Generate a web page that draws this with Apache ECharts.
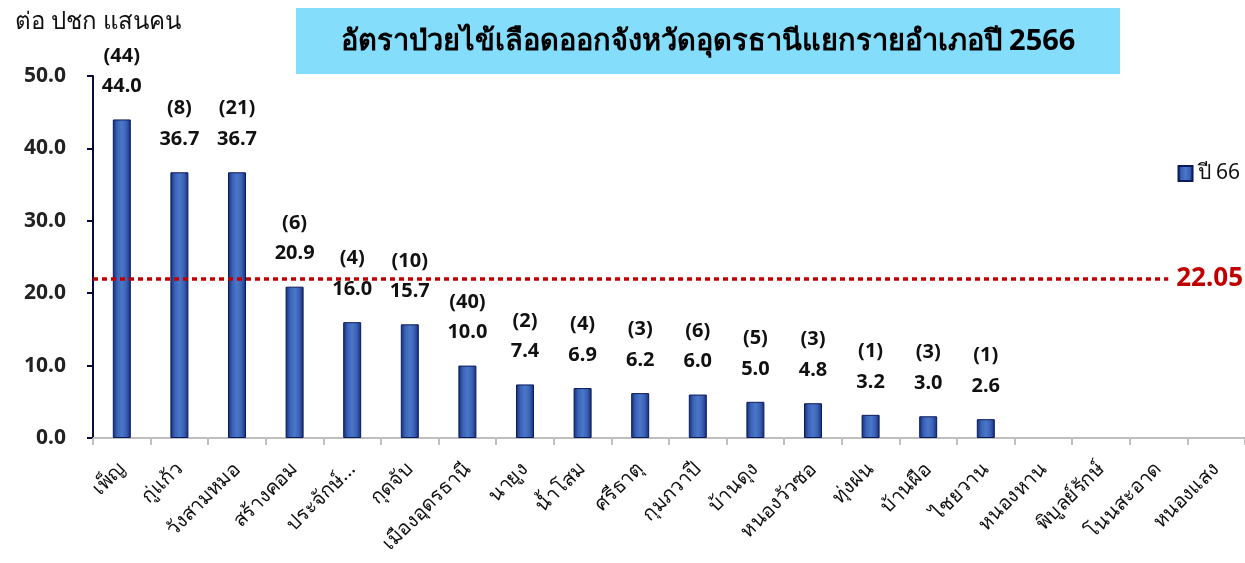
<!DOCTYPE html>
<html>
<head>
<meta charset="utf-8">
<script src="https://cdn.jsdelivr.net/npm/echarts@6/dist/echarts.min.js"></script>
<style>
  html, body { margin: 0; padding: 0; background: #fff; }
  #chart { width: 1245px; height: 563px; }
</style>
</head>
<body>
<div id="chart"></div>
<script>
// อำเภอ
const districts = ['เพ็ญ', 'กู่แก้ว', 'วังสามหมอ', 'สร้างคอม', 'ประจักษ์...', 'กุดจับ', 'เมืองอุดรธานี', 'นายูง', 'น้ำโสม', 'ศรีธาตุ',
  'กุมภวาปี', 'บ้านดุง', 'หนองวัวซอ', 'ทุ่งฝน', 'บ้านผือ', 'ไชยวาน', 'หนองหาน', 'พิบูลย์รักษ์', 'โนนสะอาด', 'หนองแสง']
// อัตราป่วยต่อแสนประชากร
const rates = [44.0, 36.7, 36.7, 20.9, 16.0, 15.7, 10.0, 7.4, 6.9, 6.2, 6.0, 5.0, 4.8, 3.2, 3.0, 2.6, 0, 0, 0, 0]
// จำนวนผู้ป่วย
const cases = [44, 8, 21, 6, 4, 10, 40, 2, 4, 3, 6, 5, 3, 1, 3, 1, 0, 0, 0, 0]
const avgRate = 22.05
const yTicks = [0, 10, 20, 30, 40, 50]

const font = "'Noto Sans', 'DejaVu Sans', sans-serif"

let chart = echarts.init(document.getElementById('chart'))
chart.setOption({
  animation: false,
  textStyle: { fontFamily: font },
  title: {
    text: 'ต่อ ปชก แสนคน',
    left: 10,
    top: 5,
    textStyle: { fontSize: 24, fontWeight: 'normal', color: '#111', fontFamily: font }
  },
  graphic: [{
    type: 'group',
    left: 296,
    top: 8,
    children: [
      { type: 'rect', shape: { x: 0, y: 0, width: 824, height: 66 }, style: { fill: '#84DDFB' } },
      {
        type: 'text', x: 412, y: 34,
        style: {
          text: 'อัตราป่วยไข้เลือดออกจังหวัดอุดรธานีแยกรายอำเภอปี 2566',
          fontSize: 29, fontWeight: 'bold', fill: '#000', fontFamily: font,
          align: 'center', verticalAlign: 'middle'
        }
      }
    ]
  }],
  legend: {
    right: 0,
    top: 158,
    icon: 'rect',
    itemWidth: 14,
    itemHeight: 15,
    itemGap: 6,
    textStyle: { fontSize: 21, color: '#111', fontFamily: font },
    data: ['ปี 66']
  },
  grid: { left: 93, right: 0, top: 76, bottom: 125 },
  xAxis: {
    type: 'category',
    data: districts,
    axisLine: { lineStyle: { color: '#BFBFBF', width: 2 } },
    axisTick: { show: true, length: 7, lineStyle: { color: '#BFBFBF', width: 2 } },
    axisLabel: { rotate: 45, fontSize: 20, color: '#111', margin: 28, interval: 0, fontFamily: font }
  },
  yAxis: {
    type: 'value',
    min: yTicks[0],
    max: yTicks[yTicks.length - 1],
    interval: 10,
    splitLine: { show: false },
    axisLine: { show: true, lineStyle: { color: '#0a0a3a', width: 2 } },
    axisTick: { show: true, length: 6, lineStyle: { color: '#0a0a3a', width: 2 } },
    axisLabel: {
      fontSize: 21, fontWeight: 'bold', color: '#222', margin: 27, fontFamily: font,
      formatter: v => v.toFixed(1)
    }
  },
  series: [{
    name: 'ปี 66',
    type: 'bar',
    data: rates.map(v => v > 0 ? v : { value: v, itemStyle: { borderWidth: 0 } }),
    barWidth: 18,
    itemStyle: {
      color: new echarts.graphic.LinearGradient(0, 0, 1, 0, [
        { offset: 0, color: '#142b7a' },
        { offset: 0.25, color: '#3b62b6' },
        { offset: 0.5, color: '#4a78c8' },
        { offset: 0.75, color: '#3b62b6' },
        { offset: 1, color: '#142b7a' }
      ]),
      borderColor: '#0b1a5c',
      borderWidth: 1
    },
    label: {
      show: true,
      position: 'top',
      distance: 18,
      formatter: p => rates[p.dataIndex] > 0 ? '{c|(' + cases[p.dataIndex] + ')}\n{v|' + rates[p.dataIndex].toFixed(1) + '}' : '',
      rich: {
        c: { fontSize: 20, fontWeight: 'bold', color: '#111', lineHeight: 31, fontFamily: font },
        v: { fontSize: 20, fontWeight: 'bold', color: '#111', lineHeight: 30, fontFamily: font }
      }
    },
    markLine: {
      silent: true,
      symbol: 'none',
      z: 10,
      data: [{ yAxis: avgRate }],
      lineStyle: { type: [5, 4], color: '#C00000', width: 3.5 },
      label: {
        show: true,
        position: 'insideEnd',
        distance: 0,
        formatter: () => avgRate.toFixed(2),
        fontSize: 26, fontWeight: 'bold', color: '#C00000', fontFamily: font,
        backgroundColor: '#fff',
        padding: [2, 2, 2, 8]
      }
    }
  }]
})
</script>
</body>
</html>
